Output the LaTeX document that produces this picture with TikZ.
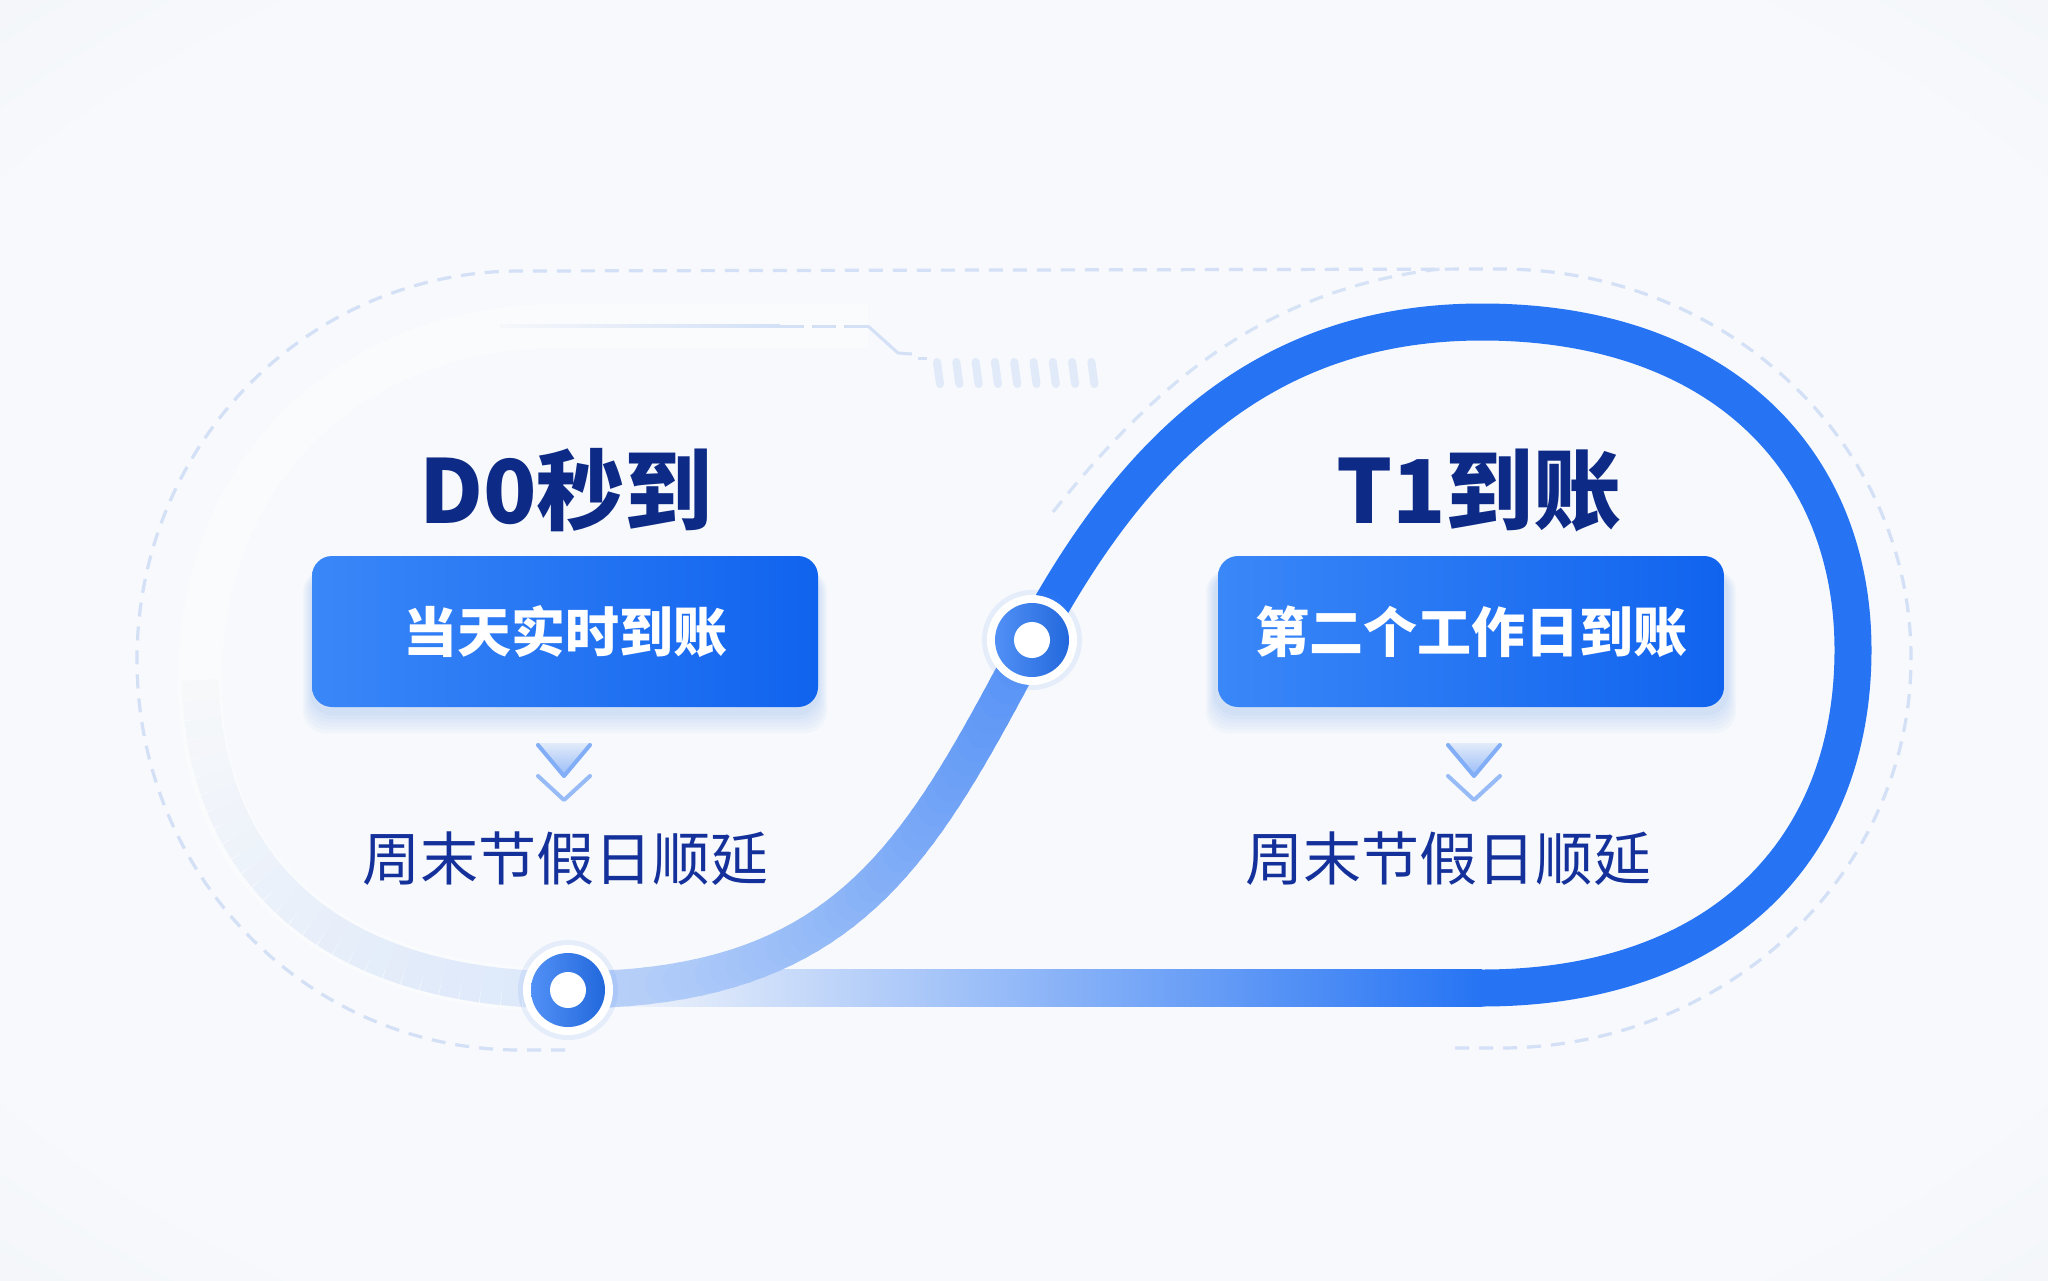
\documentclass[tikz,border=0pt]{standalone}
\usepackage{fontspec}
\newfontfamily\cjk{Noto Sans CJK SC}
\definecolor{bg}{HTML}{F2F5FA}
\definecolor{bglocal}{HTML}{F5F7FB}
\definecolor{bgleft}{HTML}{F1F4F8}
\definecolor{bgin}{HTML}{F7F9FC}
\definecolor{bgout}{HTML}{EBEEF4}
\definecolor{pblue}{HTML}{2674F4}
\definecolor{navy}{HTML}{0C2A86}
\definecolor{navytwo}{HTML}{14309A}
\definecolor{dashc}{HTML}{D3E0F6}
\definecolor{cardA}{HTML}{3A87F8}
\definecolor{cardB}{HTML}{1063EE}
\definecolor{shadowc}{HTML}{4A86F0}
\pgfdeclareradialshading{bgshade}{\pgfpoint{0bp}{0bp}}{color(0bp)=(bgin); color(30bp)=(bgin); color(50bp)=(bgout); color(72bp)=(bgout)}
\tikzset{
  track/.style={line width=37, draw=pblue},
  dashline/.style={draw=dashc, line width=3.2, dash pattern=on 14 off 10},
  ttl/.style={font=\cjk\bfseries\fontsize{88}{96}\selectfont, text=navy, inner sep=0},
  card/.style={rounded corners=20, left color=cardA, right color=cardB, minimum width=506, minimum height=151, inner sep=0,
    font=\cjk\bfseries\fontsize{54}{60}\selectfont, text=white},
  note/.style={font=\cjk\fontsize{58}{64}\selectfont, text=navytwo, inner sep=0},
  chevline/.style={line width=4, line cap=round, line join=round},
}
\begin{document}
\begin{tikzpicture}[x=1pt,y=-1pt]
\useasboundingbox (0,0) rectangle (2048,1280);
\shade[shading=bgshade] (0,0) rectangle (2048,1280);

% named points
\coordinate (P1) at (568,990);
\coordinate (P2) at (1032,640);
\coordinate (T) at (1482,322);
\coordinate (R) at (1853,650);
\coordinate (B) at (1482,988);

% faded left arc
\foreach \i in {1,...,30}{
  \pgfmathsetmacro\ta{(\i-1)/30}
  \pgfmathsetmacro\tb{\i/30}
  \pgfmathsetmacro\pc{22*(1-\i/30)}
  \path (P1) .. controls (340,990) and (205,880) .. (200,680) coordinate[pos=\ta] (u) coordinate[pos=\tb] (v);
  \draw[line width=37, draw=pblue!\pc!bgleft, line cap=butt] (u) -- (v);
}

% ghost left loop (halo)
\draw[white, line width=44, opacity=0.4] (P1) .. controls (330,990) and (200,870) .. (200,680) .. controls (200,470) and (350,326) .. (560,326) -- (868,326);

% dashed outline
\draw[dashline] (565,1050) -- (520,1050) .. controls (307,1050) and (137,875) .. (137,660) .. controls (137,445) and (307,271) .. (520,271) -- (1500,269) .. controls (1727,269) and (1911,443) .. (1911,658) .. controls (1911,873) and (1727,1048) .. (1500,1048) -- (1450,1048);
\draw[dashline, opacity=0.9] (1053,512) .. controls (1150,390) and (1260,290) .. (1440,269);

% circuit decoration
\shade[left color=bglocal, right color=dashc] (500,324.5) rectangle (780,327.5);
\draw[dashc, line width=3, dash pattern=on 24 off 8] (780,326) -- (868,326);
\draw[dashc, line width=3] (868,326) -- (898,353) -- (912,354);
\draw[dashc, line width=3] (918,358) -- (927,358);
\foreach \i in {0,...,8}{
  \draw[dashc, line width=8, line cap=round, opacity=0.6] ({937+\i*19.3},362) -- ({940+\i*19.3},384);
}

% bottom straight return line
\shade[left color=bglocal, middle color=pblue!32!bg, right color=pblue] (600,969.5) rectangle (B |- 0,1006.5);

% S curve lower part (gradient)
\foreach \i in {1,...,40}{
  \pgfmathsetmacro\ta{(\i-1)/40}
  \pgfmathsetmacro\tb{\i/40}
  \pgfmathsetmacro\pc{24+52*\i/40}
  \path (P1) .. controls (850,990) and (920,850) .. (P2) coordinate[pos=\ta] (u) coordinate[pos=\tb] (v);
  \draw[line width=37, draw=pblue!\pc!bg, line cap=round] (u) -- (v);
}

% upper S and right loop
\draw[track] (P2) .. controls (1137,443) and (1270,322) .. (T) .. controls (1720,322) and (1853,460) .. (R) .. controls (1853,850) and (1720,988) .. (B);

% ring nodes
\foreach \p/\n in {P1/N1, P2/N2}{
  \fill[shadowc, opacity=0.10] (\p) circle (50);
  \fill[white] (\p) circle (45);
  \shade[left color=pblue!80!white, right color=pblue!90!black] (\p) circle (37);
  \node[circle, fill=white, minimum size=36, inner sep=0] (\n) at (\p) {};
}

% card shadows
\foreach \k in {1,...,6}{
  \fill[shadowc, opacity=0.035, rounded corners=22] ({312-1.5*\k},{570}) rectangle ({818+1.5*\k},{712+3.5*\k});
  \fill[shadowc, opacity=0.035, rounded corners=22] ({1215-1.5*\k},{570}) rectangle ({1727+1.5*\k},{712+3.5*\k});
}

% cards
\node[card] (c1) at (565,631.5) {当天实时到账};
\node[card] (c2) at (1471,631.5) {第二个工作日到账};

% titles
\node[ttl] (t1) at (566,490) {D0秒到};
\node[ttl] (t2) at (1479,490) {T1到账};

% chevrons
\foreach \cx/\nm in {564/ch1, 1474/ch2}{
  \shade[top color=pblue!8!bg, bottom color=pblue!45!bg] ({\cx-26},743) -- ({\cx+26},743) -- (\cx,777) -- cycle;
  \draw[chevline, draw=pblue!55!bg] ({\cx-26},745) -- (\cx,776) -- ({\cx+26},745);
  \draw[chevline, draw=pblue!45!bg] ({\cx-26},776) -- (\cx,800) -- ({\cx+26},776);
  \coordinate (\nm) at (\cx,772);
}

% notes
\node[note] (d1) at (565,859) {周末节假日顺延};
\node[note] (d2) at (1448,859) {周末节假日顺延};
\end{tikzpicture}
\end{document}
